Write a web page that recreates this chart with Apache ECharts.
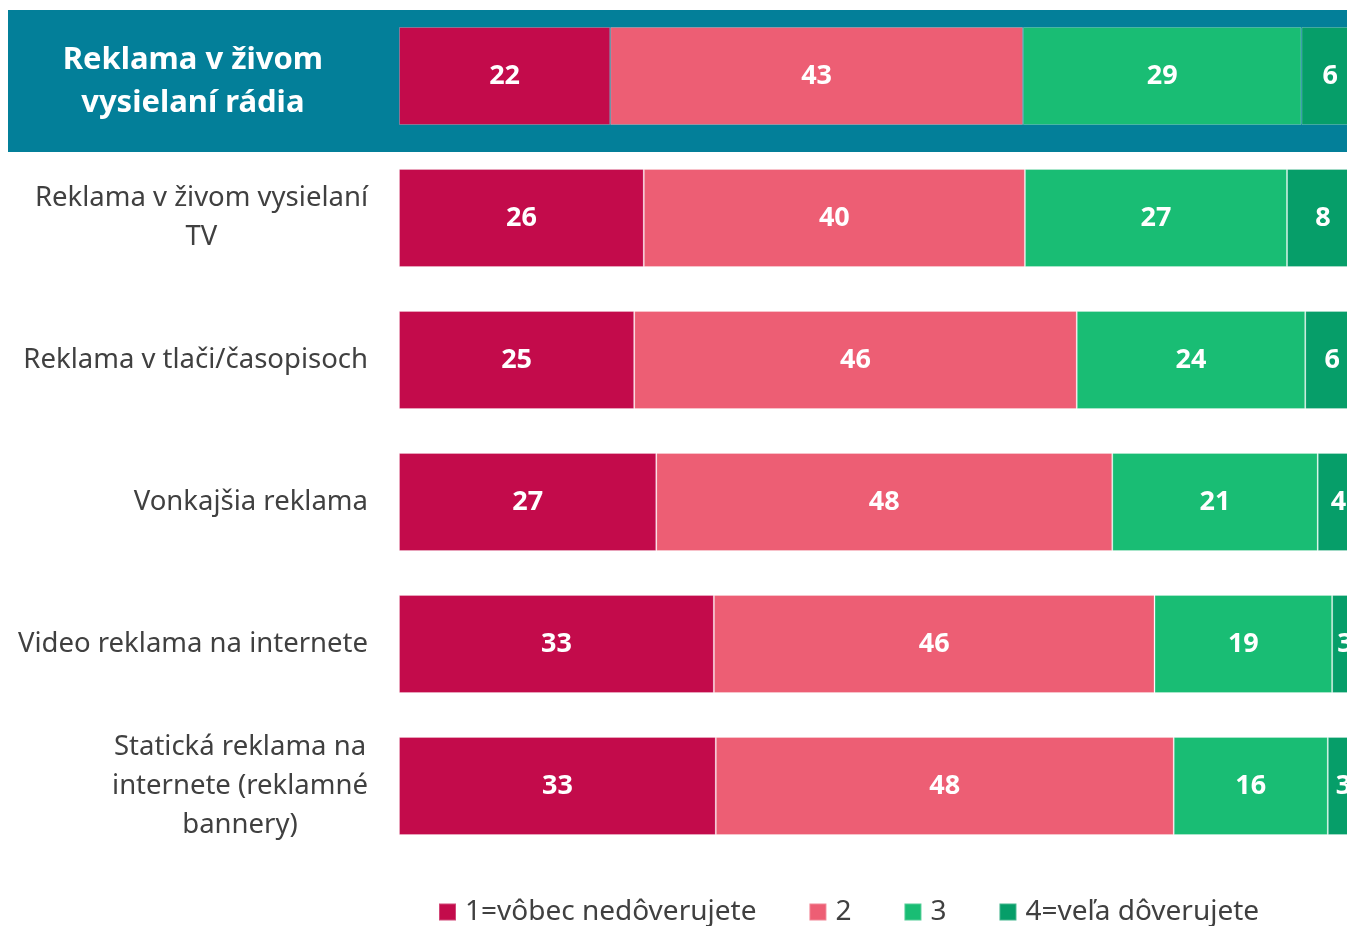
<!DOCTYPE html>
<html>
<head>
<meta charset="utf-8">
<script src="https://cdn.jsdelivr.net/npm/echarts@6/dist/echarts.min.js"></script>
<style>
html,body{margin:0;padding:0;background:#fff;overflow:hidden;}
#main{width:1347px;height:926px;}
</style>
</head>
<body>
<div id="main"></div>
<script>
const categories = [
  'Reklama v živom\nvysielaní rádia',
  'Reklama v živom vysielaní\nTV',
  'Reklama v tlači/časopisoch',
  'Vonkajšia reklama',
  'Video reklama na internete',
  'Statická reklama na\ninternete (reklamné\nbannery)'
];
const seriesNames = ['1=vôbec nedôverujete', '2', '3', '4=veľa dôverujete'];
const s1 = [22, 25.5, 24.5, 26.8, 32.8, 33.0];
const s2 = [43, 39.7, 46.1, 47.5, 45.9, 47.7];
const s3 = [29, 27.3, 23.8, 21.4, 18.5, 16.05];
const s4 = [6, 7.5, 5.6, 4.3, 2.7, 3.25];
const colors = ['#c30b4b', '#ed5e74', '#19bd74', '#069e69'];
const highlightIndex = 0;

const FONT = '"Noto Sans", "DejaVu Sans", sans-serif';
const chart = echarts.init(document.getElementById('main'));

const seriesData = [s1, s2, s3, s4];
const series = seriesData.map((d, i) => ({
  name: seriesNames[i],
  type: 'bar',
  stack: 'total',
  barWidth: 98,
  clip: false,
  data: d,
  itemStyle: { color: colors[i], borderColor: 'rgba(255,255,255,0.25)', borderWidth: 1 },
  label: {
    show: true,
    position: 'inside',
    color: '#ffffff',
    fontFamily: FONT,
    fontWeight: 'bold',
    fontSize: 27,
    padding: [5, 0, 0, 0],
    formatter: p => String(Math.round(p.value))
  },
  emphasis: { disabled: true }
}));

chart.setOption({
  animation: false,
  color: colors,
  graphic: [{
    type: 'rect',
    z: -10,
    shape: { x: 8, y: 10, width: 1345, height: 142 },
    style: { fill: '#037f99' }
  }],
  grid: { left: 399, width: 960, top: 5, bottom: 69, containLabel: false, outerBoundsMode: 'none' },
  xAxis: {
    type: 'value', min: 0, max: 100, show: false
  },
  yAxis: {
    type: 'category',
    inverse: true,
    data: categories,
    z: 10,
    axisLine: { show: false },
    axisTick: { show: false },
    splitLine: { show: false },
    axisLabel: {
      margin: 31,
      formatter: (val, idx) => {
        const tag = idx === highlightIndex ? 'h' : 'n';
        return val.split('\n').map(l => '{' + tag + '|' + l + '}').join('\n');
      },
      rich: {
        n: { align: 'center', fontFamily: FONT, fontSize: 27.5, color: '#404040', lineHeight: 39 },
        h: { align: 'center', fontFamily: FONT, fontSize: 31, fontWeight: 'bold', color: '#ffffff', lineHeight: 43, padding: [12, 45, 0, 0] }
      }
    }
  },
  legend: {
    data: seriesNames,
    left: 438,
    top: 898,
    padding: 0,
    icon: 'rect',
    itemWidth: 17,
    itemHeight: 17,
    itemGap: 52,
    textStyle: { fontFamily: FONT, fontSize: 28, color: '#404040', padding: [0, 0, 0, 4] },
    selectedMode: false
  },
  series: series
});
</script>
</body>
</html>
